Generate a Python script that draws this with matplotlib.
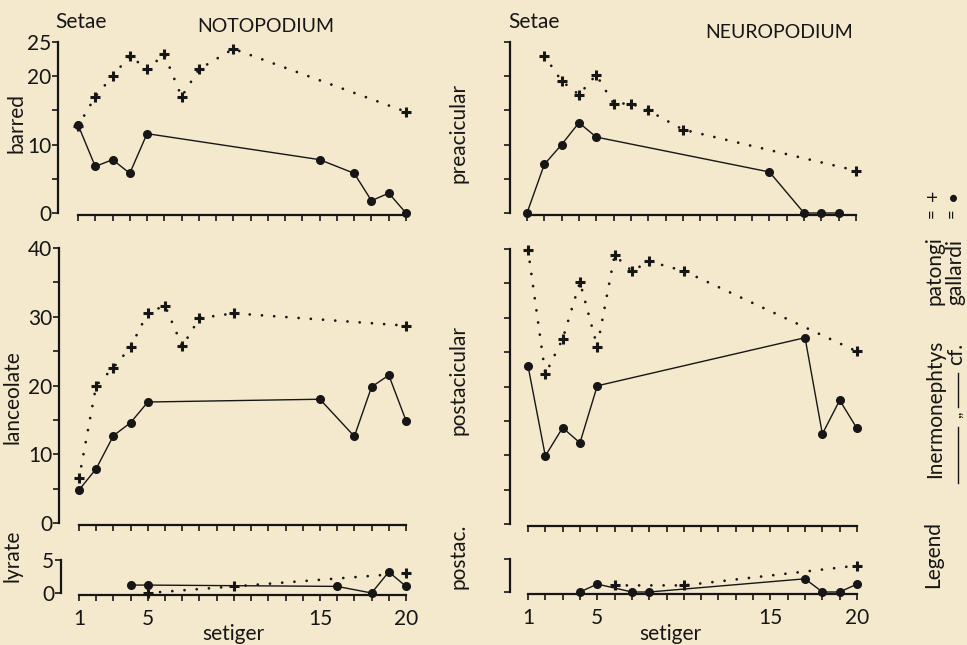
import matplotlib
matplotlib.use("Agg")
import matplotlib.pyplot as plt
from matplotlib.lines import Line2D

plt.rcParams['font.family'] = ['Lato', 'DejaVu Sans']

W, H = 967, 645
bg = '#F4E9CD'
ink = '#161616'

# Notopodium, barred setae
bar_pat_x = [1, 2, 3, 4, 5, 6, 7, 8, 10, 20]
bar_pat_y = [12.7, 17, 20, 23, 21, 23.2, 17, 21, 24, 14.8]
bar_gal_x = [1, 2, 3, 4, 5, 15, 17, 18, 19, 20]
bar_gal_y = [12.9, 6.8, 7.8, 5.8, 11.6, 7.8, 5.8, 1.8, 2.9, 0]

# Neuropodium, preacicular
pre_pat_x = [2, 3, 4, 5, 6, 7, 8, 10, 20]
pre_pat_y = [23, 19.3, 17.3, 20.2, 16, 16, 15, 12.2, 6.2]
pre_gal_x = [1, 2, 3, 4, 5, 15, 17, 18, 19]
pre_gal_y = [0, 7.1, 10, 13.2, 11.1, 6, 0, 0, 0]

# Notopodium, lanceolate
lan_pat_x = [1, 2, 3, 4, 5, 6, 7, 8, 10, 20]
lan_pat_y = [6.5, 20, 22.6, 25.6, 30.6, 31.6, 25.7, 29.8, 30.5, 28.7]
lan_gal_x = [1, 2, 3, 4, 5, 15, 17, 18, 19, 20]
lan_gal_y = [4.8, 7.9, 12.7, 14.6, 17.6, 18, 12.6, 19.8, 21.5, 14.9]

# Neuropodium, postacicular
post_pat_x = [1, 2, 3, 4, 5, 6, 7, 8, 10, 20]
post_pat_y = [39.9, 21.8, 26.9, 35.2, 25.8, 39.1, 36.8, 38.2, 36.8, 25.1]
post_gal_x = [1, 2, 3, 4, 5, 17, 18, 19, 20]
post_gal_y = [23, 9.9, 14, 11.8, 20.1, 27.1, 13.1, 18, 13.9]

# Notopodium, lyrate
lyr_pat_x = [5, 10, 20]
lyr_pat_y = [0, 1, 3]
lyr_gal_x = [4, 5, 16, 18, 19, 20]
lyr_gal_y = [1.2, 1.2, 1, 0, 3.2, 1]

# Neuropodium, postac.
pac_pat_x = [6, 10, 20]
pac_pat_y = [1, 1, 4]
pac_gal_x = [4, 5, 7, 8, 17, 18, 19, 20]
pac_gal_y = [0, 1.2, 0, 0, 2, 0, 0, 1.2]

xtick_labels = ['1', '5', '15', '20']
xtick_pos = [1, 5, 15, 20]

fig = plt.figure(figsize=(W / 100, H / 100), dpi=100, facecolor=bg)


def panel(xl, x1, x20, y0, ytop, vtop, xb, yticks, ylabels, bottom=False):
    # everything in pixels of the original page
    right = x20 + 10
    top = ytop - 10
    ax = fig.add_axes([xl / W, 1 - xb / H, (right - xl) / W, (xb - top) / H])
    ax.set_facecolor('none')
    sx = (x20 - x1) / 19
    ax.set_xlim(1 + (xl - x1) / sx, 20 + (right - x20) / sx)
    sy = (y0 - ytop) / vtop
    ax.set_ylim((y0 - xb) / sy, vtop + (ytop - top) / sy)
    for s in ['top', 'right']:
        ax.spines[s].set_visible(False)
    ax.spines['left'].set_bounds(0, vtop)
    ax.spines['bottom'].set_bounds(1, 20)
    for s in ['left', 'bottom']:
        ax.spines[s].set_linewidth(1.6)
        ax.spines[s].set_color(ink)
    ax.set_xticks(range(1, 21))
    if bottom:
        ax.set_xticklabels([str(i) if i in xtick_pos else '' for i in range(1, 21)])
    else:
        ax.set_xticklabels([])
    ax.set_yticks(yticks)
    ax.set_yticklabels(ylabels)
    ax.tick_params(axis='x', direction='out', length=4, width=1.2, color=ink,
                   labelsize=15, pad=6, labelcolor=ink)
    ax.tick_params(axis='y', direction='out', length=4, width=1.2, color=ink,
                   labelsize=15, pad=1, labelcolor=ink)
    return ax


def draw(ax, px, py, gx, gy):
    ax.plot(px, py, color=ink, lw=2.0, linestyle=(0, (0.01, 4.4)),
            dash_capstyle='round', clip_on=False)
    ax.plot(px, py, linestyle='none', marker='+', ms=7, mew=2.2,
            color=ink, clip_on=False)
    ax.plot(gx, gy, color=ink, lw=1.0, marker='o', ms=5.5,
            clip_on=False)


ax1 = panel(58, 78, 406, 213, 42, 25, 215, [0, 5, 10, 15, 20, 25],
            ['0', '', '10', '', '20', '25'])
draw(ax1, bar_pat_x, bar_pat_y, bar_gal_x, bar_gal_y)

ax2 = panel(510, 527, 856, 213, 42, 25, 215, [0, 5, 10, 15, 20, 25], [''] * 6)
draw(ax2, pre_pat_x, pre_pat_y, pre_gal_x, pre_gal_y)

ax3 = panel(59, 79, 406, 523, 248, 40, 525, list(range(0, 41, 5)),
            ['0', '', '10', '', '20', '', '30', '', '40'])
draw(ax3, lan_pat_x, lan_pat_y, lan_gal_x, lan_gal_y)

ax4 = panel(510, 528, 857, 524, 249, 40, 526, list(range(0, 41, 5)), [''] * 9)
draw(ax4, post_pat_x, post_pat_y, post_gal_x, post_gal_y)

ax5 = panel(61, 79, 406, 593, 560, 5, 595, [0, 5], ['0', '5'], bottom=True)
draw(ax5, lyr_pat_x, lyr_pat_y, lyr_gal_x, lyr_gal_y)

ax6 = panel(510, 528, 857, 592, 559, 5, 594, [0, 5], ['', ''], bottom=True)
draw(ax6, pac_pat_x, pac_pat_y, pac_gal_x, pac_gal_y)


def txt(x, y, s, size=15, rot=0, ha='center', va='center'):
    fig.text(x / W, 1 - y / H, s, fontsize=size, rotation=rot, ha=ha,
             va=va, color=ink)


# headers
txt(55, 22, 'Setae', ha='left')
txt(266, 26, 'NOTOPODIUM', size=14)
txt(508, 22, 'Setae', ha='left')
txt(779, 33, 'NEUROPODIUM', size=14)

# row labels
txt(17, 123, 'barred', rot=90)
txt(458, 133, 'preacicular', rot=90)
txt(13, 397, 'lanceolate', rot=90)
txt(458, 380, 'postacicular', rot=90)
txt(12, 556, 'lyrate', rot=90)
txt(458, 556, 'postac.', rot=90)

# x axis titles
txt(233, 634, 'setiger')
txt(670, 634, 'setiger')

# legend, written sideways
txt(933, 555, 'Legend', size=15, rot=90)
txt(935, 409, 'Inermonephtys', size=15, rot=90)
txt(935, 271, 'patongi', size=15, rot=90)
txt(932, 213, '=', size=12, rot=90)
txt(933, 195, '+', size=14, rot=90)
fig.add_artist(Line2D([958 / W, 958 / W], [1 - 483 / H, 1 - 427 / H],
                      transform=fig.transFigure, color=ink, lw=1.0))
txt(956, 414, ',,', size=12, rot=90)
fig.add_artist(Line2D([958 / W, 958 / W], [1 - 407 / H, 1 - 373 / H],
                      transform=fig.transFigure, color=ink, lw=1.0))
txt(956, 354, 'cf.', size=15, rot=90)
txt(955, 272, 'gallardi', size=15, rot=90)
txt(952, 213, '=', size=12, rot=90)
txt(953, 195, '\u2022', size=14, rot=90)

fig.savefig('out.png', dpi=100, facecolor=bg)
